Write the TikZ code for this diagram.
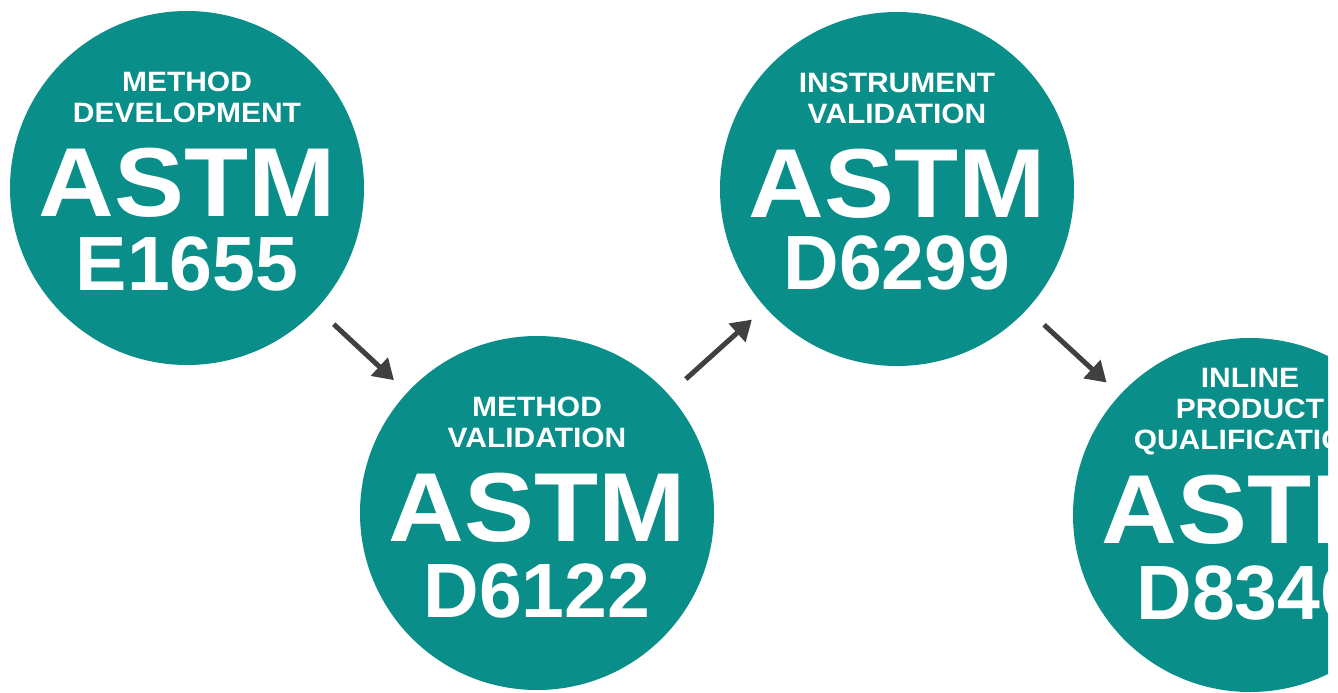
\documentclass[tikz,border=0pt]{standalone}
\usepackage{fontspec}
\newfontfamily\headfont[FakeStretch=1.07]{Liberation Sans}
\newfontfamily\numfont{Liberation Sans}
\usetikzlibrary{arrows.meta, positioning}
\definecolor{astmteal}{RGB}{10,142,137}
\definecolor{arrowgray}{RGB}{64,64,64}

\begin{document}
\begin{tikzpicture}[x=1pt, y=-1pt,
  stage/.style={circle, fill=astmteal, minimum size=354pt, inner sep=0pt},
  stagetitle/.style={text=white, anchor=base, align=center, inner sep=0pt, font=\headfont\bfseries\fontsize{28}{31}\selectfont},
  stageastm/.style={text=white, anchor=base, inner sep=0pt, font=\headfont\bfseries\fontsize{98}{98}\selectfont},
  stagecode/.style={text=white, anchor=base, inner sep=0pt, text height=56pt, font=\numfont\bfseries\fontsize{77}{77}\selectfont},
  flow/.style={arrowgray, line width=5pt, -{Triangle[length=20pt, width=24pt]}, shorten <=23pt, shorten >=18pt}]
\useasboundingbox (0,0) rectangle (1338,693);
\clip (0,0) rectangle (1328,693);

% the four stages
\node[stage] (dev) at (187,188) {};
\node[stage] (methval) at (537,513) {};
\node[stage] (instval) at (897,189) {};
\node[stage] (inline) at (1250,515) {};

\node[stagetitle] (devtitle) at ([yshift=66pt]dev.center) {METHOD\\DEVELOPMENT};
\node[stageastm] (devastm) at ([yshift=-28pt]dev.center) {ASTM};
\node[stagecode] (devcode) at ([yshift=-102pt]dev.center) {E1655};

\node[stagetitle] (methvaltitle) at ([yshift=66pt]methval.center) {METHOD\\VALIDATION};
\node[stageastm] (methvalastm) at ([yshift=-28pt]methval.center) {ASTM};
\node[stagecode] (methvalcode) at ([yshift=-104pt]methval.center) {D6122};

\node[stagetitle] (instvaltitle) at ([yshift=66pt]instval.center) {INSTRUMENT\\VALIDATION};
\node[stageastm] (instvalastm) at ([yshift=-28pt]instval.center) {ASTM};
\node[stagecode] (instvalcode) at ([yshift=-100pt]instval.center) {D6299};

\node[stagetitle] (inlinetitle) at ([yshift=66pt]inline.center) {INLINE\\PRODUCT\\QUALIFICATION};
\node[stageastm] (inlineastm) at ([yshift=-28pt]inline.center) {ASTM};
\node[stagecode] (inlinecode) at ([yshift=-104pt]inline.center) {D8340};

% arrows between stages
\draw[flow] (dev) -- (methval);
\draw[flow] (methval) -- (instval);
\draw[flow] (instval) -- (inline);

\end{tikzpicture}
\end{document}
